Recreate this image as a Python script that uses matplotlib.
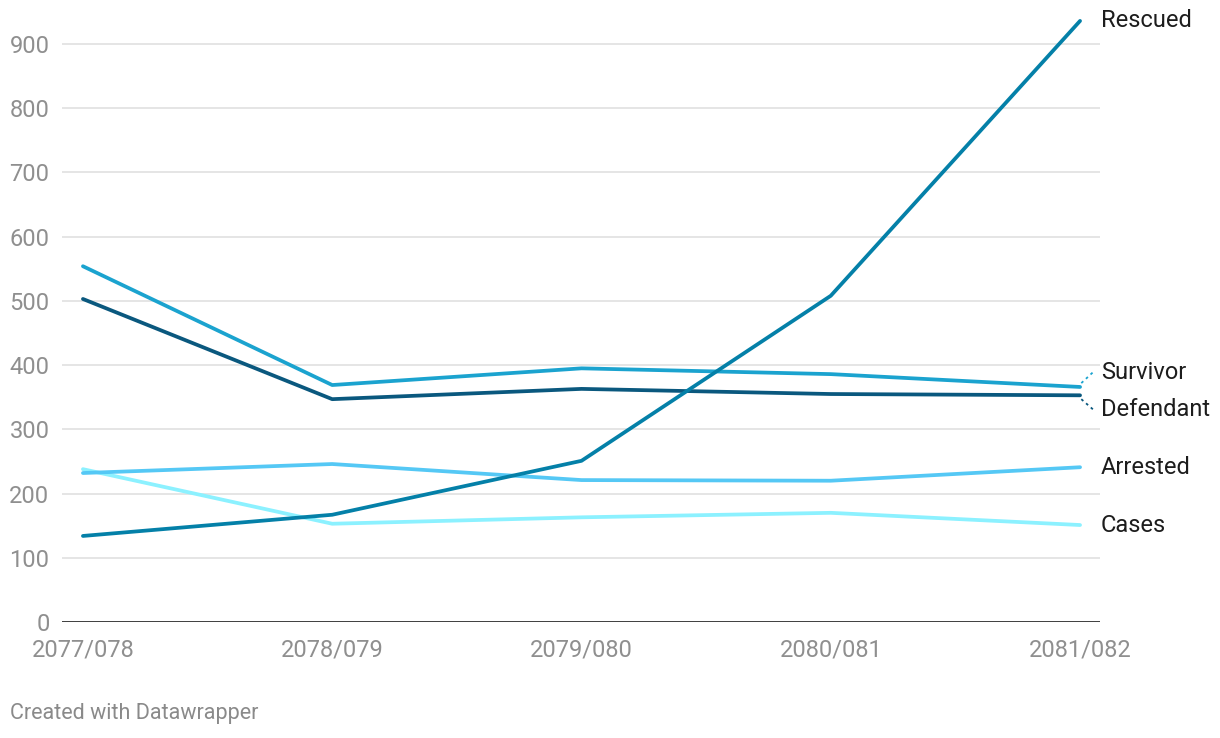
import matplotlib
matplotlib.use("Agg")
import matplotlib.pyplot as plt

years = ["2077/078", "2078/079", "2079/080", "2080/081", "2081/082"]
rescued = [134, 167, 251, 508, 936]
survivor = [554, 369, 395, 386, 366]
defendant = [503, 347, 363, 355, 353]
arrested = [232, 246, 221, 220, 241]
cases = [238, 153, 163, 170, 151]

series = [
    ("Cases", cases, "#8cf1ff", None),
    ("Arrested", arrested, "#55c8f5", None),
    ("Defendant", defendant, "#0a587e", 331),
    ("Survivor", survivor, "#1ba3cf", 389),
    ("Rescued", rescued, "#0480a8", None),
]
yticks = [0, 100, 200, 300, 400, 500, 600, 700, 800, 900]

plt.rcParams['font.family'] = ['Roboto', 'DejaVu Sans']
fig = plt.figure(figsize=(12.2, 7.38), dpi=100)
ax = fig.add_axes([62/1220, (738-622)/738, 1038/1220, 612/738])
x = list(range(len(years)))

ax.set_xlim(-0.084, 4.08)
ax.set_ylim(0, 953)
for t in yticks[1:]:
    ax.axhline(t, color="#e3e3e3", lw=1.3, zorder=0)
ax.axhline(0, color="#1a1a1a", lw=1.9, zorder=3)

for name, vals, col, ly in series:
    ax.plot(x, vals, color=col, lw=2.7, solid_capstyle="round", solid_joinstyle="round", zorder=2)
    last = vals[-1]
    if ly is not None:
        ax.plot([4.005, 4.052], [last + (6 if ly > last else -6), ly], color=col, lw=1.3,
                linestyle=(0, (1.5, 2)), clip_on=False, zorder=2)
        ty = ly
    else:
        ty = last
    ax.text(4.084, ty, name, fontsize=17, color="#1d1d1d", va="center", ha="left")

ax.set_yticks(yticks)
ax.set_yticklabels([str(t) for t in yticks])
ax.set_xticks(x)
ax.set_xticklabels(years)
ax.tick_params(axis="y", length=0, pad=9, labelsize=17, labelcolor="#8f8f8f")
ax.tick_params(axis="x", length=0, pad=12, labelsize=17, labelcolor="#8f8f8f")
for s in ax.spines.values():
    s.set_visible(False)

fig.text(10/1220, 1 - 714/738, "Created with Datawrapper", fontsize=15.5, color="#8a8a8a",
         va="center", ha="left")

fig.savefig("out.png", dpi=100)
